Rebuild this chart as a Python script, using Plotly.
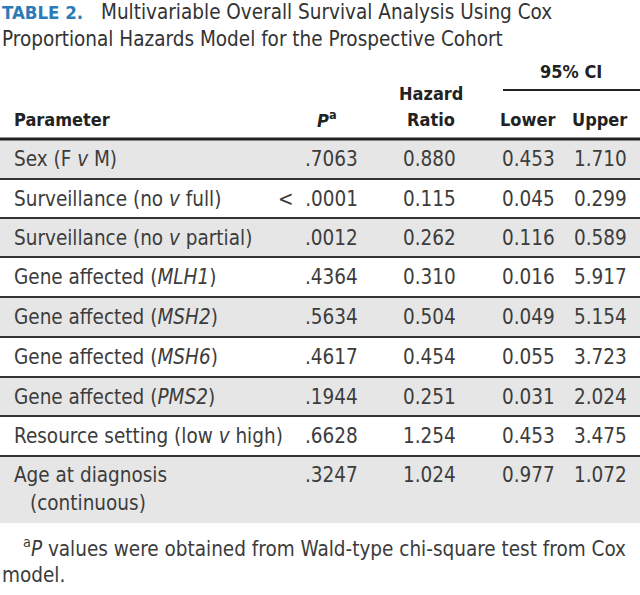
import plotly.graph_objects as go

# ---------------- data ----------------
title_label = "TABLE 2."
title_text = ["Multivariable Overall Survival Analysis Using Cox",
              "Proportional Hazards Model for the Prospective Cohort"]
headers = ["Parameter", "<i>P</i><sup>a</sup>", "Hazard|Ratio", "Lower", "Upper"]
ci_header = "95% CI"
parameters = ["Sex (F <i>v</i> M)",
              "Surveillance (no <i>v</i> full)",
              "Surveillance (no <i>v</i> partial)",
              "Gene affected (<i>MLH1</i>)",
              "Gene affected (<i>MSH2</i>)",
              "Gene affected (<i>MSH6</i>)",
              "Gene affected (<i>PMS2</i>)",
              "Resource setting (low <i>v</i> high)",
              "Age at diagnosis|(continuous)"]
p_values = [".7063", "<  .0001", ".0012", ".4364", ".5634", ".4617", ".1944", ".6628", ".3247"]
hazard_ratio = ["0.880", "0.115", "0.262", "0.310", "0.504", "0.454", "0.251", "1.254", "1.024"]
ci_lower = ["0.453", "0.045", "0.116", "0.016", "0.049", "0.055", "0.031", "0.453", "0.977"]
ci_upper = ["1.710", "0.299", "0.589", "5.917", "5.154", "3.723", "2.024", "3.475", "1.072"]
footnote = ["<sup>a</sup><i>P</i> values were obtained from Wald-type chi-square test from Cox",
            "model."]

# ---------------- layout constants ----------------
W, H = 640, 595
FONT = "DejaVu Sans Condensed, Liberation Sans Narrow, Roboto, sans-serif"
TXT = "#3c3c3c"
DARK = "#222222"
BLUE = "#2b7bb9"
GRAY = "#e6e6e6"
row_edges = [139, 179, 218, 257, 297, 337, 377, 416, 456, 523]
col_param_x = 12
col_p_right = 360
col_hr_right = 458
col_lo_right = 557
col_up_right = 629
BODY = 20.5
HEAD = 18

fig = go.Figure()
shapes = []
ann = []

def text(x, y, s, anchor="left", size=BODY, color=TXT, yanchor="middle"):
    ann.append(dict(x=x, y=y, xref="x", yref="y", text=s, showarrow=False,
                    xanchor=anchor, yanchor=yanchor, align=anchor,
                    font=dict(family=FONT, size=size, color=color)))

# title
text(0, 12, f"<b>{title_label}</b>", size=18.5, color=BLUE)
text(99, 12, title_text[0], size=20.5, color="#333333")
text(0, 39, title_text[1], size=20.5, color="#333333")

# header
text(571, 71, f"<b>{ci_header}</b>", anchor="center", size=HEAD, color=DARK)
shapes.append(dict(type="line", xref="x", yref="y", x0=503, x1=640, y0=90, y1=90,
                   line=dict(color=DARK, width=2)))
text(col_param_x, 119, f"<b>{headers[0]}</b>", size=HEAD, color=DARK)
text(339, 119, f"<b>{headers[1]}</b>", anchor="right", size=HEAD, color=DARK)
hz = headers[2].split("|")
text(431, 93, f"<b>{hz[0]}</b>", anchor="center", size=HEAD, color=DARK)
text(431, 119, f"<b>{hz[1]}</b>", anchor="center", size=HEAD, color=DARK)
text(col_lo_right, 119, f"<b>{headers[3]}</b>", anchor="right", size=HEAD, color=DARK)
text(col_up_right, 119, f"<b>{headers[4]}</b>", anchor="right", size=HEAD, color=DARK)

# rows
n = len(parameters)
for i in range(n):
    y0, y1 = row_edges[i], row_edges[i + 1]
    if i % 2 == 0:
        shapes.append(dict(type="rect", xref="x", yref="y", x0=0, x1=W, y0=y0, y1=y1,
                           fillcolor=GRAY, line=dict(width=0), layer="below"))
    yc = (y0 + y1) / 2 if i < n - 1 else y0 + 19
    parts = parameters[i].split("|")
    text(col_param_x, yc, parts[0])
    for k, extra in enumerate(parts[1:], start=1):
        text(col_param_x + 16, yc + 28 * k, extra)
    text(col_p_right, yc, p_values[i], anchor="right")
    text(col_hr_right, yc, hazard_ratio[i], anchor="right")
    text(col_lo_right, yc, ci_lower[i], anchor="right")
    text(col_up_right, yc, ci_upper[i], anchor="right")

for i, e in enumerate(row_edges[:-1]):
    shapes.append(dict(type="line", xref="x", yref="y", x0=0, x1=W, y0=e, y1=e,
                       line=dict(color=DARK if i == 0 else "#333333", width=3 if i == 0 else 2)))

# footnote
text(21, 547, footnote[0])
text(0, 575, footnote[1])

fig.update_layout(width=W, height=H, margin=dict(l=0, r=0, t=0, b=0),
                  paper_bgcolor="white", plot_bgcolor="white",
                  shapes=shapes, annotations=ann, showlegend=False,
                  xaxis=dict(range=[0, W], visible=False, fixedrange=True),
                  yaxis=dict(range=[H, 0], visible=False, fixedrange=True))
fig.write_html("out.html", config={"displayModeBar": False},
               post_script="document.body.style.margin='0';document.body.style.overflow='hidden';")
